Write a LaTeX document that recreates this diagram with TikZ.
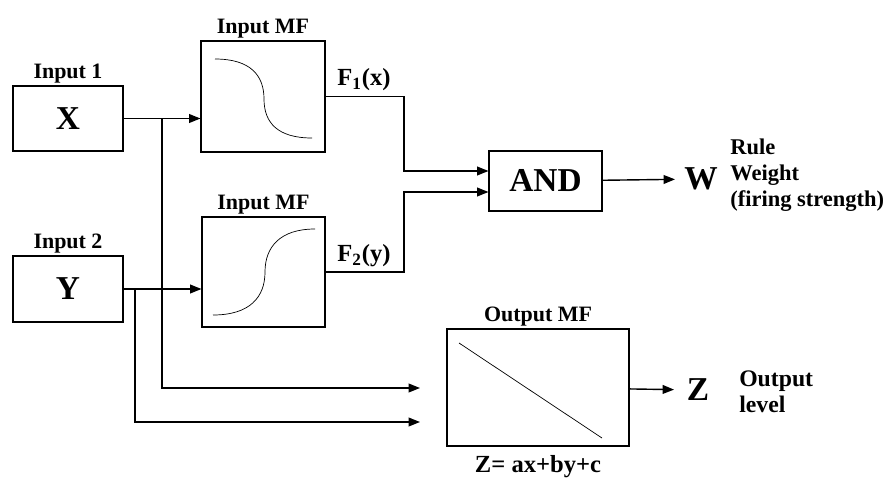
\documentclass[tikz,border=0pt]{standalone}
\usepackage{fontspec}
\setmainfont{Liberation Serif}
\usetikzlibrary{arrows.meta}

\begin{document}
\begin{tikzpicture}[
                > = {Triangle[length=6.5pt,width=5pt]}, % arrow head style
                x = 0.02cm, y = -0.02cm, % one unit is one pixel of the sketch
                semithick % line style
            ]

            \tikzstyle{block}=[draw = black, rectangle, inner sep = 0pt]
            \tikzstyle{big}=[font = \fontsize{19}{21}\selectfont\bfseries]
            \tikzstyle{small}=[font = \fontsize{13.5}{14.8}\selectfont\bfseries,
            align = left, inner sep = 1pt]
            \tikzstyle{every label}=[font = \fontsize{12.5}{14}\selectfont\bfseries,
            inner sep = 1pt]
            \tikzstyle{wire}=[thick]

            \useasboundingbox (0,0) rectangle (885,480);

            % inputs
            \node (x) [block, big, minimum width = 2.2cm, minimum height = 1.3cm,
            label=above:{Input 1}] at (68,118.5) {X};
            \node (y) [block, big, minimum width = 2.2cm, minimum height = 1.32cm,
            label=above:{Input 2}] at (68,289) {Y};

            % membership functions
            \node (mf1) [block, minimum width = 2.48cm, minimum height = 2.22cm,
            label=above:{Input MF}] at (263,96.5) {};
            \node (mf2) [block, minimum width = 2.46cm, minimum height = 2.2cm,
            label=above:{Input MF}] at (263.5,272) {};
            \draw[thin] (215,59) .. controls (250,59) and (264,75) .. (264,99)
            .. controls (264,123) and (278,138) .. (312,138);
            \draw[thin] (213,315) .. controls (250,315) and (265,297) .. (265,272)
            .. controls (265,247) and (280,229) .. (315,229);

            \node (and) [block, big, minimum width = 2.26cm, minimum height = 1.2cm]
            at (545.5,181) {AND};
            \node (omf) [block, minimum width = 3.64cm, minimum height = 2.34cm,
            label=above:{Output MF},
            label={[label distance = 4pt, font = \fontsize{14}{16}\selectfont\bfseries]
            below:{Z= ax+by+c}}] at (538,387.5) {};
            \draw[thin] (459,343) -- (602,438);

            % outputs
            \node (w) [big, inner sep = 0pt] at (701,179) {W};
            \node (rule) [small, anchor = west, font = \fontsize{12.8}{14.8}\selectfont\bfseries]
            at (728,175) {Rule\\Weight\\(firing strength)};
            \node (z) [big, inner sep = 0pt] at (698,390) {Z};
            \node (lvl) [small, anchor = west] at (737,392) {Output\\level};

            \node (f1) [small, font = \fontsize{14}{16}\selectfont\bfseries]
            at (364,80) {F\textsubscript{1}(x)};
            \node (f2) [small, font = \fontsize{14}{16}\selectfont\bfseries]
            at (364,256) {F\textsubscript{2}(y)};

            \coordinate (j1) at (404,171); \coordinate (j2) at (404,192);
            \coordinate (bx) at (162,118.5); \coordinate (by) at (135,289);
            \coordinate (o1) at (420,388); \coordinate (o2) at (420,422);

            \path[wire, ->] (x) edge (x -| mf1.west);
            \path[wire, ->] (y) edge (y -| mf2.west);
            \draw[wire, ->] (mf1.east) -| (j1) -- (j1 -| and.west);
            \draw[wire, ->] (mf2.east) -| (j2) -- (j2 -| and.west);
            \draw[wire, ->] (bx) |- (o1); \draw[wire, ->] (by) |- (o2);
            \draw[wire, ->, shorten > = 5pt] (and) -- (w);
            \draw[wire, ->, shorten > = 7pt] (omf) -- (z);

        \end{tikzpicture}
\end{document}
